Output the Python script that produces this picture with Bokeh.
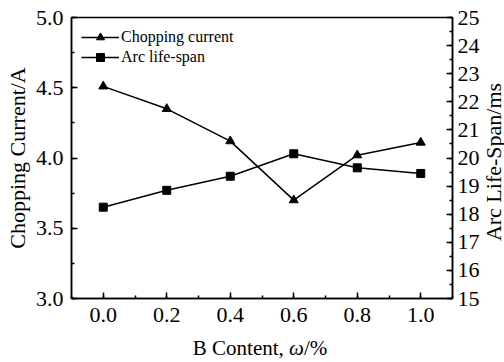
from bokeh.plotting import figure
from bokeh.models import (Range1d, LinearAxis, SingleIntervalTicker, PrintfTickFormatter,
                          Legend, LegendItem, Div)
from bokeh.layouts import row, column
from bokeh.embed import file_html
from bokeh.resources import INLINE

b_content = [0.0, 0.2, 0.4, 0.6, 0.8, 1.0]
chopping_current = [4.51, 4.35, 4.12, 3.70, 4.02, 4.11]
arc_life_span = [18.25, 18.85, 19.35, 20.15, 19.65, 19.45]

FONT = "Liberation Serif"
FIG_W, FIG_H = 482, 338

p = figure(width=FIG_W, height=FIG_H, output_backend="svg", toolbar_location=None,
           x_range=Range1d(-0.1, 1.1), y_range=Range1d(3.0, 5.0),
           min_border_left=71, min_border_right=30, min_border_top=17, min_border_bottom=40,
           x_axis_type=None, y_axis_type=None, margin=0)
p.extra_y_ranges = {"right": Range1d(15, 25)}
p.xgrid.visible = False
p.ygrid.visible = False
p.outline_line_color = "black"
p.outline_line_width = 1.5
p.background_fill_color = "white"
p.border_fill_color = "white"

def style(ax, fmt, standoff):
    ax.formatter = PrintfTickFormatter(format=fmt)
    ax.major_tick_in = 6
    ax.major_tick_out = 0
    ax.minor_tick_in = 3
    ax.minor_tick_out = 0
    ax.axis_line_width = 1.5
    ax.major_tick_line_width = 1.5
    ax.minor_tick_line_width = 1.5
    ax.major_label_text_font = FONT
    ax.major_label_text_font_size = "22px"
    ax.major_label_text_color = "black"
    ax.axis_label_text_font = FONT
    ax.axis_label_text_font_size = "22px"
    ax.axis_label_text_font_style = "normal"
    ax.axis_label_text_color = "black"
    ax.major_label_standoff = standoff

xaxis = LinearAxis(ticker=SingleIntervalTicker(interval=0.2, num_minor_ticks=2))
style(xaxis, "%.1f", 9)
p.add_layout(xaxis, "below")

yaxis = LinearAxis(ticker=SingleIntervalTicker(interval=0.5, num_minor_ticks=2),
                   axis_label="Chopping Current/A")
style(yaxis, "%.1f", 8)
yaxis.axis_label_standoff = 3
p.add_layout(yaxis, "left")

y2 = LinearAxis(y_range_name="right", ticker=SingleIntervalTicker(interval=1, num_minor_ticks=2))
style(y2, "%d", 5)
p.add_layout(y2, "right")

l1 = p.line(b_content, chopping_current, line_color="black", line_width=1.5)
s1 = p.scatter(b_content, chopping_current, marker="triangle", size=9,
               fill_color="black", line_color="black")
l2 = p.line(b_content, arc_life_span, y_range_name="right", line_color="black", line_width=1.5)
s2 = p.scatter(b_content, arc_life_span, y_range_name="right", marker="square", size=8,
               fill_color="black", line_color="black")

legend = Legend(items=[LegendItem(label="Chopping current", renderers=[l1, s1]),
                       LegendItem(label="Arc life-span", renderers=[l2, s2])],
                location="top_left")
legend.border_line_color = None
legend.background_fill_alpha = 0
legend.label_text_font = FONT
legend.label_text_font_size = "16px"
legend.label_text_color = "black"
legend.glyph_width = 38
legend.label_standoff = 2
legend.spacing = 0
legend.padding = 4
legend.margin = 10
legend.label_height = 18
p.add_layout(legend)

# Right-axis title (reads bottom to top) and x-axis title with italic omega
right_title = Div(
    text=("<div style=\"position:relative;width:22px;height:%dpx;\">"
          "<div style=\"position:absolute;left:11px;top:162px;"
          "writing-mode:vertical-rl;transform:translate(-50%%,-50%%) rotate(180deg);"
          "white-space:nowrap;font-family:'Liberation Serif';font-size:22px;"
          "line-height:21px;color:black;\">"
          "Arc Life-Span/ms</div></div>") % FIG_H,
    width=22, height=FIG_H, margin=0)
bottom_title = Div(
    text=("<div style=\"position:relative;width:504px;height:22px;\">"
          "<div style=\"position:absolute;left:260px;top:0px;transform:translateX(-50%);"
          "white-space:nowrap;font-family:'Liberation Serif';font-size:21px;line-height:20px;"
          "color:black;\">B Content, <i>ω</i>/%</div></div>"),
    width=504, height=22, margin=0)

layout = column(row(p, right_title, spacing=0, margin=0), bottom_title, spacing=0, margin=0)

open("out.html", "w").write(file_html(layout, INLINE))
